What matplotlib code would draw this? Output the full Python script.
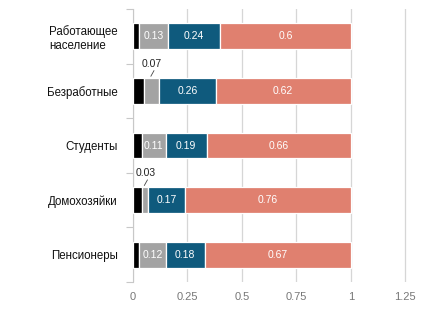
import numpy as np
import matplotlib
matplotlib.use('Agg')
import matplotlib.pyplot as plt

plt.rcParams['font.family'] = ['Liberation Sans', 'DejaVu Sans']

groups = ['Работающее\nнаселение', 'Безработные', 'Студенты', 'Домохозяйки', 'Пенсионеры']
black_part = [0.03, 0.05, 0.04, 0.04, 0.03]
gray_part = [0.13, 0.07, 0.11, 0.03, 0.12]
blue_part = [0.24, 0.26, 0.19, 0.17, 0.18]
red_part = [0.60, 0.62, 0.66, 0.76, 0.67]
xticks = [0, 0.25, 0.5, 0.75, 1, 1.25]
xticklabels = ['0', '0.25', '0.5', '0.75', '1', '1.25']

colors = ['#000000', '#a3a3a3', '#0f5a7d', '#e0806f']
series = [black_part, gray_part, blue_part, red_part]

fig = plt.figure(figsize=(4.34, 3.10), dpi=100)
ax = fig.add_axes([0.306, 0.09, 0.653, 0.881])

y = np.arange(len(groups))
left = np.zeros(len(groups))
for k, (vals, c) in enumerate(zip(series, colors)):
    vals = np.array(vals)
    ax.barh(y, vals, left=left, height=0.47, color=c, edgecolor='white',
            linewidth=0.9, zorder=3)
    if k > 0:
        for i, v in enumerate(vals):
            cx = left[i] + v / 2
            if v >= 0.1:
                ax.text(cx, y[i], '%g' % v, color='white', ha='center',
                        va='center', fontsize=7.5, zorder=4)
            else:
                ax.text(cx + 0.003, y[i] - 0.5, '%g' % v, color='#222222',
                        ha='center', va='center', fontsize=7.5, zorder=4)
                ax.plot([cx - 0.002, cx + 0.012], [y[i] - 0.27, y[i] - 0.37],
                        color='#444444', lw=0.6, zorder=4)
    left = left + vals

ax.set_xlim(0, 1.3)
ax.set_ylim(len(groups) - 0.5, -0.5)
ax.set_xticks(xticks)
ax.set_xticklabels(xticklabels)
ax.set_yticks(y)
ax.set_yticklabels(groups, fontsize=8.3, color='#111111')
for lab in ax.get_yticklabels():
    lab.set_multialignment('left')
ax.set_yticks(np.arange(-0.5, len(groups)), minor=True)
ax.tick_params(axis='y', which='major', length=0, pad=11)
ax.tick_params(axis='y', which='minor', length=5, color='#c8c8c8', width=0.8)
ax.tick_params(axis='x', length=0, labelsize=8, labelcolor='#777777', pad=7)
for s in ['top', 'right', 'bottom']:
    ax.spines[s].set_visible(False)
ax.spines['left'].set_color('#c8c8c8')
ax.grid(axis='x', color='#d6d6d6', lw=0.9, zorder=0)

fig.savefig('out.png', dpi=100)
